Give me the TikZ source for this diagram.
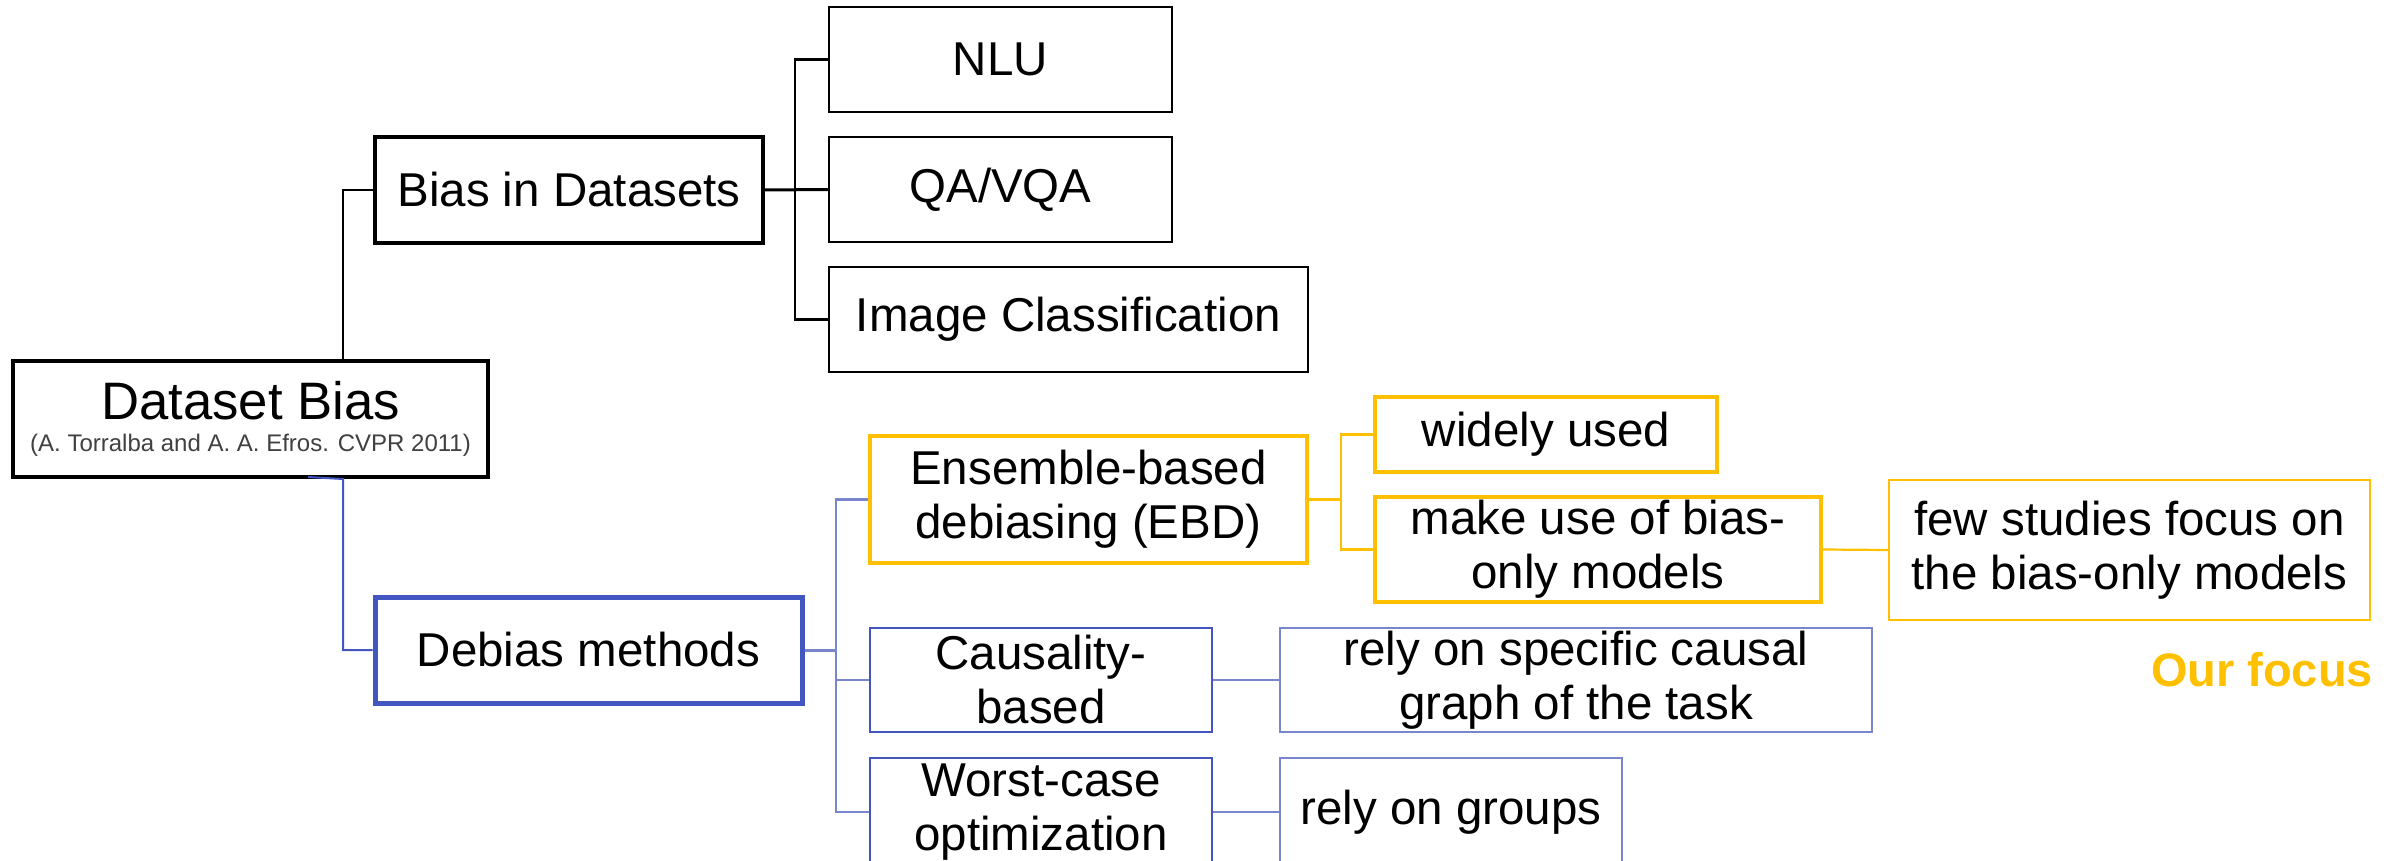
\documentclass[tikz,border=0pt]{standalone}
\usepackage{fontspec}
\setmainfont{Liberation Sans}
\definecolor{focus}{HTML}{FFC000}
\definecolor{deepblue}{HTML}{4355C1}
\definecolor{paleblue}{HTML}{7986CB}
\definecolor{citegray}{HTML}{404040}

\begin{document}
\begin{tikzpicture}[x=0.5pt,y=-0.5pt,
  box/.style={draw, rectangle, inner sep=0pt, align=center,
    font=\fontsize{23.75pt}{27pt}\selectfont},
  plainbox/.style={box, draw=black, line width=1.25pt},
  bluebox/.style={box, draw=deepblue, line width=1.25pt},
  lavbox/.style={box, draw=paleblue, line width=1.1pt},
  goldbox/.style={box, draw=focus, line width=2pt},
  blackwire/.style={draw=black, line width=1.1pt},
  deepwire/.style={draw=deepblue, line width=1pt},
  palewire/.style={draw=paleblue, line width=1.1pt},
  goldwire/.style={draw=focus, line width=1.1pt}
]
\clip (0,0) rectangle (2400,861);
\fill[white] (0,0) rectangle (2400,861);

% root
\node[box, draw=black, line width=2pt, minimum width=237.5pt, minimum height=58pt,
  font=\fontsize{26.35pt}{16pt}\selectfont] (dsb) at (250.5,419)
  {Dataset Bias\\{\fontsize{12pt}{16pt}\selectfont\color{citegray}(A. Torralba and A. A. Efros. CVPR 2011)}};

% bias in datasets branch
\node[plainbox, line width=1.75pt, minimum width=194pt, minimum height=53pt] (bid) at (569,190) {Bias in Datasets};
\node[plainbox, minimum width=171.5pt, minimum height=52.5pt] (nlu) at (1000.5,59.5) {NLU};
\node[plainbox, minimum width=171.5pt, minimum height=52.5pt] (qa) at (1000.5,189.5) {QA/VQA};
\node[plainbox, minimum width=239.5pt, minimum height=52.5pt] (imgc) at (1068.5,319.5) {Image Classification};

% debias methods branch
\node[box, draw=deepblue, line width=2.5pt, minimum width=213.5pt, minimum height=53pt] (deb) at (588.5,650) {Debias methods};
\node[goldbox, minimum width=218.5pt, minimum height=63.5pt] (ebd) at (1088.5,499.5) {Ensemble-based\\debiasing (EBD)};
\node[bluebox, minimum width=171pt, minimum height=52pt] (cau) at (1041,680) {Causality-\\based};
\node[bluebox, minimum width=171pt, minimum height=54pt] (wco) at (1041,812) {Worst-case\\optimization};
\node[lavbox, minimum width=296pt, minimum height=52pt] (rsc) at (1576,680) {rely on specific causal\\graph of the task};
\node[lavbox, minimum width=171pt, minimum height=54pt] (rog) at (1451,812) {rely on groups};
\node[goldbox, minimum width=171pt, minimum height=37.5pt] (wu) at (1546,434.5) {widely used};
\node[goldbox, minimum width=223pt, minimum height=52.5pt] (mu) at (1598,549.5) {make use of bias-\\only models};
\node[goldbox, line width=1.25pt, minimum width=240.5pt, minimum height=70pt] (few) at (2129.5,550) {few studies focus on\\the bias-only models};
\node[anchor=base, inner sep=0pt, text=focus, font=\bfseries\fontsize{23.5pt}{27pt}\selectfont] (ourfocus) at (2262,686) {Our focus};

% bus positions
\coordinate (tap) at (343,0);
\coordinate (dsbfoot) at (308,477);
\coordinate (bbus) at (795,0);
\coordinate (lbus) at (836,0);
\coordinate (obus) at (1341,0);

% black connectors
\draw[blackwire] (tap |- dsb.north) |- (bid.west);
\draw[blackwire, line width=1.5pt] (bid.east) -- (qa.west);
\draw[blackwire] (nlu.west) -| (bbus |- imgc.west) -- (imgc.west);

% blue connectors
\draw[deepwire] (dsbfoot) -- (tap |- dsb.south) |- (deb.west);
\draw[palewire, line width=1.5pt] (deb.east) -- (lbus |- deb.east);
\draw[palewire] (ebd.west) -| (lbus |- wco.west) -- (wco.west);
\draw[palewire] (lbus |- cau.west) -- (cau.west);
\draw[palewire] (cau.east) -- (rsc.west);
\draw[palewire] (wco.east) -- (rog.west);

% gold connectors
\draw[goldwire] (ebd.east) -- (obus |- ebd.east);
\draw[goldwire] (wu.west) -| (obus |- mu.west) -- (mu.west);
\draw[goldwire] (mu.east) -- (few.west);
\end{tikzpicture}
\end{document}
